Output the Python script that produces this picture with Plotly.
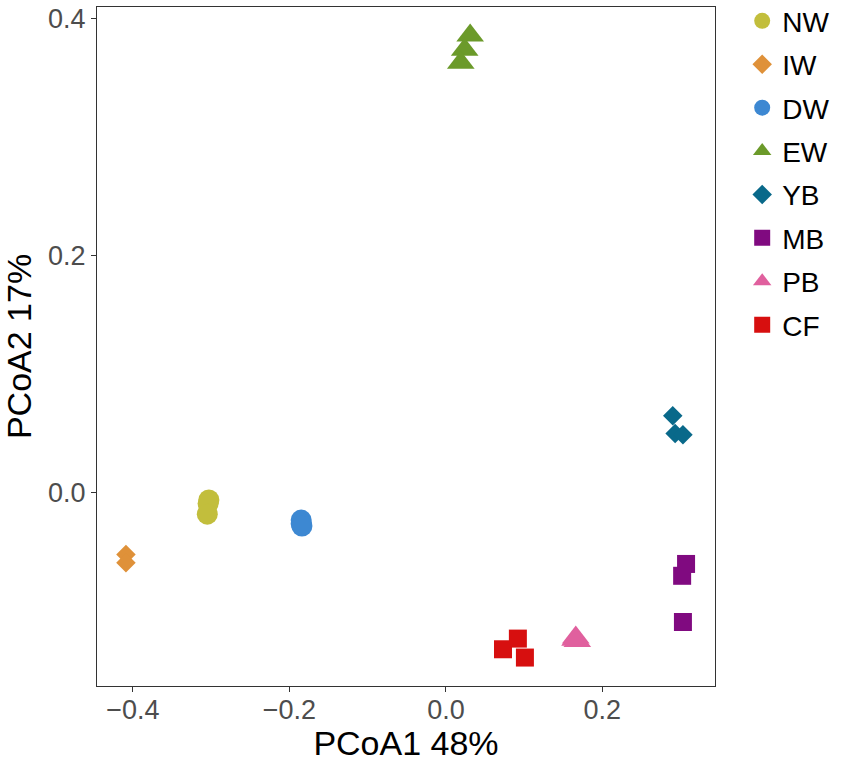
import plotly.graph_objects as go

# PCoA scores per group
groups = ["NW", "IW", "DW", "EW", "YB", "MB", "PB", "CF"]

nw_x = [-0.303, -0.304, -0.305]
nw_y = [-0.006, -0.009, -0.018]
iw_x = [-0.409, -0.409]
iw_y = [-0.052, -0.059]
dw_x = [-0.185, -0.185, -0.184]
dw_y = [-0.023, -0.026, -0.028]
ew_x = [0.031, 0.024, 0.019]
ew_y = [0.386, 0.374, 0.363]
yb_x = [0.290, 0.293, 0.303]
yb_y = [0.065, 0.050, 0.049]
mb_x = [0.307, 0.302, 0.303]
mb_y = [-0.060, -0.070, -0.109]
pb_x = [0.166, 0.168, 0.165]
pb_y = [-0.122, -0.125, -0.124]
cf_x = [0.073, 0.092, 0.101]
cf_y = [-0.132, -0.123, -0.139]

xs = [nw_x, iw_x, dw_x, ew_x, yb_x, mb_x, pb_x, cf_x]
ys = [nw_y, iw_y, dw_y, ew_y, yb_y, mb_y, pb_y, cf_y]

colors = ["#C2BE3C", "#DF9139", "#3D88D2", "#6B9A2A", "#09698A", "#800A80", "#E0609E", "#D70F0F"]
symbols = ["circle", "diamond", "circle", "triangle-up", "diamond", "square", "triangle-up", "square"]
sizes = [21, 15, 21, 24, 15, 18, 24, 18]

fig = go.Figure()
for name, x, y, c, s, sz in zip(groups, xs, ys, colors, symbols, sizes):
    fig.add_trace(go.Scatter(
        x=x, y=y, name=name, mode="markers", legendgroup=name,
        marker=dict(color=c, symbol=s, size=sz, line=dict(width=0))
    ))

axis_common = dict(
    showgrid=False, zeroline=False,
    showline=True, mirror=True, linecolor="#333333", linewidth=1,
    ticks="outside", ticklen=5, tickcolor="#333333",
    tickfont=dict(size=27, color="#4D4D4D", family="Liberation Sans, Arial"),
)

fig.update_layout(
    width=851, height=762,
    margin=dict(l=97, r=136, t=7, b=76, autoexpand=False),
    plot_bgcolor="white", paper_bgcolor="white",
    font=dict(family="Liberation Sans, Arial", color="black"),
    xaxis=dict(range=[-0.446, 0.344], tickvals=[-0.4, -0.2, 0.0, 0.2],
               ticktext=["\u22120.4", "\u22120.2", "0.0", "0.2"],
               ticklabelstandoff=-5,
               title=dict(text="PCoA1 48%", font=dict(size=34), standoff=5),
               **axis_common),
    yaxis=dict(range=[-0.163, 0.410], tickvals=[0.0, 0.2, 0.4],
               ticktext=["0.0", "0.2", "0.4"],
               title=dict(text="PCoA2 17%", font=dict(size=34), standoff=6),
               **axis_common),
    legend=dict(x=1.044, y=1.016, xanchor="left", yanchor="top",
                font=dict(size=28, color="black"), bgcolor="rgba(0,0,0,0)",
                tracegroupgap=4),
    showlegend=True,
)

# drop the default page margin so the figure sits at the window's corner
fig.write_html("out.html", config={"displayModeBar": False},
               post_script="document.body.style.margin='0';")
